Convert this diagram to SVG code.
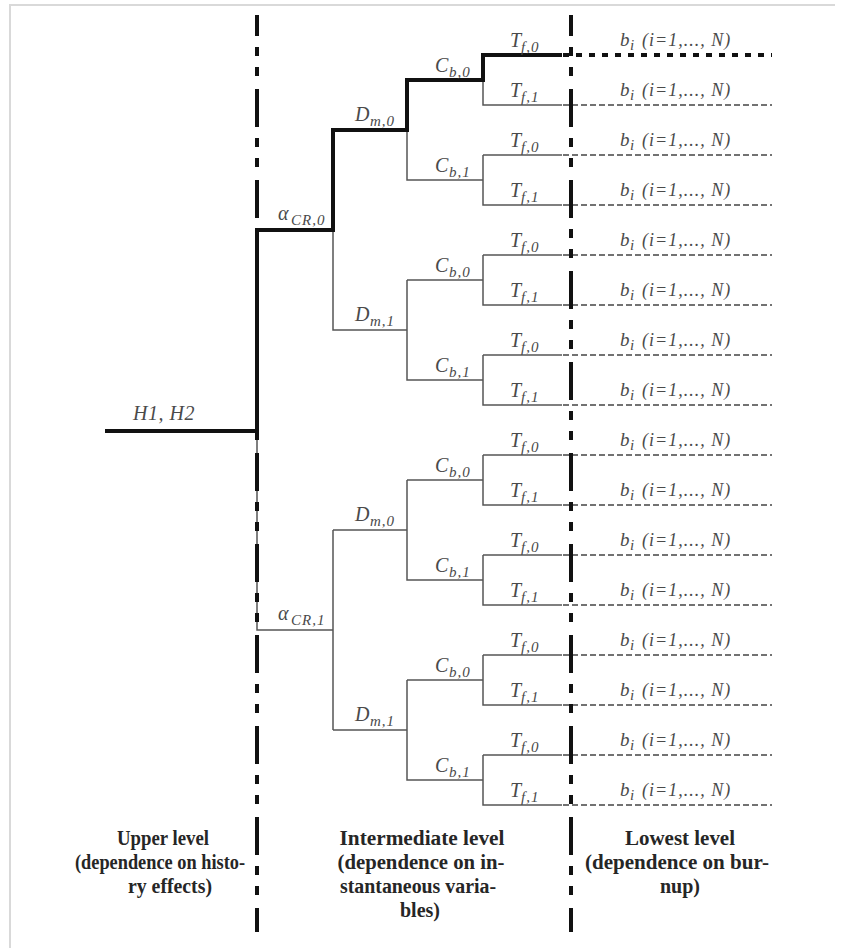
<svg xmlns="http://www.w3.org/2000/svg" width="847" height="948" viewBox="0 0 847 948">
<style>
.lbl{font-family:"Liberation Serif","Times New Roman",serif;font-style:italic;font-size:20px;fill:#4a4a4a}
.sub{font-size:15px;letter-spacing:1px}
.bl{font-size:18px;letter-spacing:1px}
.bb{font-size:19px}
.cap{font-family:"Liberation Serif","Times New Roman",serif;font-weight:bold;font-size:20px;fill:#262626;text-anchor:middle}
.thin{fill:none;stroke:#555;stroke-width:1.5}
.thick{fill:none;stroke:#111;stroke-width:4;stroke-linejoin:miter}
.dash{fill:none;stroke:#444;stroke-width:1.5;stroke-dasharray:6 3}
.dot{fill:none;stroke:#111;stroke-width:4;stroke-dasharray:6 7}
.sep{fill:none;stroke:#111;stroke-width:4;stroke-dasharray:38 11 9 11 9 13;stroke-dashoffset:17}
.frame{fill:none;stroke:#d9d9d9;stroke-width:2}
</style>
<path class="frame" d="M10,948V5H835"/>
<g id="connectors">
<path class="thin" d="M257,431V630H333 M333,130V330H407 M333,530V730 M333,530H407 M333,730H407 M407,80V180H483 M407,280V380H483 M407,280H483 M407,480V580H483 M407,480H483 M407,680V780H483 M407,680H483 M483,55V105H562 M483,155V205H562 M483,155H562 M483,255V305H562 M483,255H562 M483,355V405H562 M483,355H562 M483,455V505H562 M483,455H562 M483,555V605H562 M483,555H562 M483,655V705H562 M483,655H562 M483,755V805H562 M483,755H562"/>
<path class="dash" d="M563,105H772 M563,155H772 M563,205H772 M563,255H772 M563,305H772 M563,355H772 M563,405H772 M563,455H772 M563,505H772 M563,555H772 M563,605H772 M563,655H772 M563,705H772 M563,755H772 M563,805H772"/>
<path class="dot" d="M563,55H772"/>
<path class="sep" d="M257,15V932"/>
<path class="sep" d="M571,15V932"/>
<path class="thick" d="M105,431H257V230H333V130H407V80H483V55H562"/>
</g>
<g id="node-H"><text class="lbl" x="133" y="420" style="letter-spacing:0.5px">H1, H2</text></g>
<g id="node-aCR0"><text class="lbl" x="278" y="220">α<tspan class="sub" x="291" y="225">CR,0</tspan></text></g>
<g id="node-aCR1"><text class="lbl" x="278" y="620">α<tspan class="sub" x="291" y="625">CR,1</tspan></text></g>
<g id="node-Dm0a"><text class="lbl" x="355" y="121">D<tspan class="sub" x="370" y="126">m,0</tspan></text></g>
<g id="node-Dm1a"><text class="lbl" x="355" y="321">D<tspan class="sub" x="370" y="326">m,1</tspan></text></g>
<g id="node-Dm0b"><text class="lbl" x="355" y="521">D<tspan class="sub" x="370" y="526">m,0</tspan></text></g>
<g id="node-Dm1b"><text class="lbl" x="355" y="721">D<tspan class="sub" x="370" y="726">m,1</tspan></text></g>
<g id="node-Cb0a"><text class="lbl" x="435" y="72">C<tspan class="sub" x="449" y="77">b,0</tspan></text></g>
<g id="node-Cb1a"><text class="lbl" x="435" y="172">C<tspan class="sub" x="449" y="177">b,1</tspan></text></g>
<g id="node-Cb0b"><text class="lbl" x="435" y="272">C<tspan class="sub" x="449" y="277">b,0</tspan></text></g>
<g id="node-Cb1b"><text class="lbl" x="435" y="372">C<tspan class="sub" x="449" y="377">b,1</tspan></text></g>
<g id="node-Cb0c"><text class="lbl" x="435" y="472">C<tspan class="sub" x="449" y="477">b,0</tspan></text></g>
<g id="node-Cb1c"><text class="lbl" x="435" y="572">C<tspan class="sub" x="449" y="577">b,1</tspan></text></g>
<g id="node-Cb0d"><text class="lbl" x="435" y="672">C<tspan class="sub" x="449" y="677">b,0</tspan></text></g>
<g id="node-Cb1d"><text class="lbl" x="435" y="772">C<tspan class="sub" x="449" y="777">b,1</tspan></text></g>
<g id="leaves-T">
<text class="lbl" x="510" y="47">T<tspan class="sub" x="521" y="52">f,0</tspan></text>
<text class="lbl" x="510" y="97">T<tspan class="sub" x="521" y="102">f,1</tspan></text>
<text class="lbl" x="510" y="147">T<tspan class="sub" x="521" y="152">f,0</tspan></text>
<text class="lbl" x="510" y="197">T<tspan class="sub" x="521" y="202">f,1</tspan></text>
<text class="lbl" x="510" y="247">T<tspan class="sub" x="521" y="252">f,0</tspan></text>
<text class="lbl" x="510" y="297">T<tspan class="sub" x="521" y="302">f,1</tspan></text>
<text class="lbl" x="510" y="347">T<tspan class="sub" x="521" y="352">f,0</tspan></text>
<text class="lbl" x="510" y="397">T<tspan class="sub" x="521" y="402">f,1</tspan></text>
<text class="lbl" x="510" y="447">T<tspan class="sub" x="521" y="452">f,0</tspan></text>
<text class="lbl" x="510" y="497">T<tspan class="sub" x="521" y="502">f,1</tspan></text>
<text class="lbl" x="510" y="547">T<tspan class="sub" x="521" y="552">f,0</tspan></text>
<text class="lbl" x="510" y="597">T<tspan class="sub" x="521" y="602">f,1</tspan></text>
<text class="lbl" x="510" y="647">T<tspan class="sub" x="521" y="652">f,0</tspan></text>
<text class="lbl" x="510" y="697">T<tspan class="sub" x="521" y="702">f,1</tspan></text>
<text class="lbl" x="510" y="747">T<tspan class="sub" x="521" y="752">f,0</tspan></text>
<text class="lbl" x="510" y="797">T<tspan class="sub" x="521" y="802">f,1</tspan></text>
</g>
<g id="leaves-b">
<text class="lbl bb" x="620" y="46">b<tspan class="sub" x="630" y="50">i</tspan><tspan class="bl" x="642" y="46">(i=1,..., N)</tspan></text>
<text class="lbl bb" x="620" y="96">b<tspan class="sub" x="630" y="100">i</tspan><tspan class="bl" x="642" y="96">(i=1,..., N)</tspan></text>
<text class="lbl bb" x="620" y="146">b<tspan class="sub" x="630" y="150">i</tspan><tspan class="bl" x="642" y="146">(i=1,..., N)</tspan></text>
<text class="lbl bb" x="620" y="196">b<tspan class="sub" x="630" y="200">i</tspan><tspan class="bl" x="642" y="196">(i=1,..., N)</tspan></text>
<text class="lbl bb" x="620" y="246">b<tspan class="sub" x="630" y="250">i</tspan><tspan class="bl" x="642" y="246">(i=1,..., N)</tspan></text>
<text class="lbl bb" x="620" y="296">b<tspan class="sub" x="630" y="300">i</tspan><tspan class="bl" x="642" y="296">(i=1,..., N)</tspan></text>
<text class="lbl bb" x="620" y="346">b<tspan class="sub" x="630" y="350">i</tspan><tspan class="bl" x="642" y="346">(i=1,..., N)</tspan></text>
<text class="lbl bb" x="620" y="396">b<tspan class="sub" x="630" y="400">i</tspan><tspan class="bl" x="642" y="396">(i=1,..., N)</tspan></text>
<text class="lbl bb" x="620" y="446">b<tspan class="sub" x="630" y="450">i</tspan><tspan class="bl" x="642" y="446">(i=1,..., N)</tspan></text>
<text class="lbl bb" x="620" y="496">b<tspan class="sub" x="630" y="500">i</tspan><tspan class="bl" x="642" y="496">(i=1,..., N)</tspan></text>
<text class="lbl bb" x="620" y="546">b<tspan class="sub" x="630" y="550">i</tspan><tspan class="bl" x="642" y="546">(i=1,..., N)</tspan></text>
<text class="lbl bb" x="620" y="596">b<tspan class="sub" x="630" y="600">i</tspan><tspan class="bl" x="642" y="596">(i=1,..., N)</tspan></text>
<text class="lbl bb" x="620" y="646">b<tspan class="sub" x="630" y="650">i</tspan><tspan class="bl" x="642" y="646">(i=1,..., N)</tspan></text>
<text class="lbl bb" x="620" y="696">b<tspan class="sub" x="630" y="700">i</tspan><tspan class="bl" x="642" y="696">(i=1,..., N)</tspan></text>
<text class="lbl bb" x="620" y="746">b<tspan class="sub" x="630" y="750">i</tspan><tspan class="bl" x="642" y="746">(i=1,..., N)</tspan></text>
<text class="lbl bb" x="620" y="796">b<tspan class="sub" x="630" y="800">i</tspan><tspan class="bl" x="642" y="796">(i=1,..., N)</tspan></text>
</g>
<g id="caption-upper">
<text class="cap" x="163" y="845" textLength="92" lengthAdjust="spacingAndGlyphs">Upper level</text>
<text class="cap" x="160" y="869" textLength="170" lengthAdjust="spacingAndGlyphs">(dependence on histo-</text>
<text class="cap" x="170" y="893" textLength="84" lengthAdjust="spacingAndGlyphs">ry effects)</text>
</g>
<g id="caption-intermediate">
<text class="cap" x="422" y="845" textLength="165" lengthAdjust="spacingAndGlyphs">Intermediate level</text>
<text class="cap" x="421" y="869" textLength="167" lengthAdjust="spacingAndGlyphs">(dependence on in-</text>
<text class="cap" x="418" y="893" textLength="156" lengthAdjust="spacingAndGlyphs">stantaneous varia-</text>
<text class="cap" x="420" y="917">bles)</text>
</g>
<g id="caption-lowest">
<text class="cap" x="680" y="845" textLength="110" lengthAdjust="spacingAndGlyphs">Lowest level</text>
<text class="cap" x="677" y="869" textLength="184" lengthAdjust="spacingAndGlyphs">(dependence on bur-</text>
<text class="cap" x="680" y="893">nup)</text>
</g>
</svg>
